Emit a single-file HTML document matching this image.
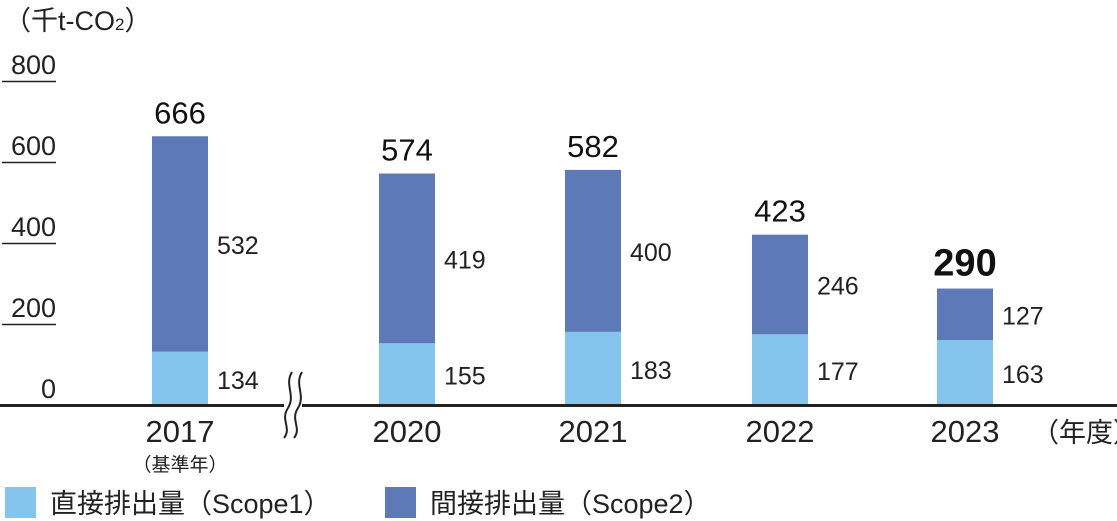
<!DOCTYPE html>
<html><head><meta charset="utf-8">
<style>
html,body{margin:0;padding:0;background:#fff;}
svg{display:block;font-family:"Liberation Sans","Noto Sans CJK JP",sans-serif;}
</style></head>
<body>
<svg width="1117" height="521" viewBox="0 0 1117 521" id="chart">
<text x="4" y="30" font-size="27" fill="#222">（千t-CO<tspan font-size="17">2</tspan>）</text>
<g id="yaxis"></g>
<g id="bars"></g>
<line x1="0" y1="405.5" x2="1117" y2="405.5" stroke="#222" stroke-width="3"/>
<g>
<rect x="284" y="400" width="18" height="12" fill="#fff"/>
<path d="M292 372 C284 385,296 395,288 408 C280 420,292 428,284 438" fill="none" stroke="#222" stroke-width="2"/>
<path d="M302 372 C294 385,306 395,298 408 C290 420,302 428,294 438" fill="none" stroke="#222" stroke-width="2"/>
</g>
<text x="1032" y="442" font-size="27" fill="#222">（年度）</text>
<text x="180" y="471" font-size="19" fill="#222" text-anchor="middle">（基準年）</text>
<g>
<rect x="5" y="487" width="31" height="31" fill="#85c4ec"/>
<text x="50" y="513" font-size="27" fill="#222">直接排出量（Scope1）</text>
<rect x="385" y="487" width="31" height="31" fill="#5e79b8"/>
<text x="430" y="513" font-size="27" fill="#222">間接排出量（Scope2）</text>
</g>
</svg>
<script>
const categories=["2017","2020","2021","2022","2023"];
const scope1=[134,155,183,177,163];
const scope2=[532,419,400,246,127];
const totals=[666,574,582,423,290];
const yTicks=[0,200,400,600,800];
const NS="http://www.w3.org/2000/svg";
const base=406, pxPer=81/200;
function y(v){return base-v*pxPer;}
const centers=[180,407,593,780,965];
function xc(i){return centers[i];}
function mk(tag,attrs,parent,text){const e=document.createElementNS(NS,tag);for(const k in attrs)e.setAttribute(k,attrs[k]);if(text!==undefined)e.textContent=text;parent.appendChild(e);return e;}
const ya=document.getElementById('yaxis');
yTicks.forEach(t=>{
  const tx=mk('text',{x:56,y:(t===0?y(t)-8:y(t)-8),'font-size':27,fill:'#222','text-anchor':'end'},ya,String(t));
  
  
  if(t>0){
    const l=mk('line',{x1:2,x2:56,y1:y(t)-0.5,y2:y(t)-0.5,stroke:'#222','stroke-width':1.5},ya);
    
    
  }
});
const bg=document.getElementById('bars');
const w=56;
categories.forEach((c,i)=>{
  const x=xc(i)-w/2;
  const r1=mk('rect',{x:x,y:y(scope1[i]),width:w,height:base-y(scope1[i]),fill:'#85c4ec'},bg);
  
  
  const r2=mk('rect',{x:x,y:y(scope1[i]+scope2[i]),width:w,height:scope2[i]*pxPer,fill:'#5e79b8'},bg);
  
  
  const l1=mk('text',{x:x+w+9,y:Math.min(y(scope1[i]/2)+10,base-16),'font-size':25,fill:'#222'},bg,String(scope1[i]));
  
  
  const l2=mk('text',{x:x+w+9,y:y(scope1[i]+scope2[i]/2)+10,'font-size':25,fill:'#222'},bg,String(scope2[i]));
  
  
  const last=i===categories.length-1;
  const tt=mk('text',{x:xc(i),y:y(scope1[i]+scope2[i])-13,'font-size':last?38:31,'font-weight':last?'bold':'normal',fill:'#111','text-anchor':'middle'},bg,String(totals[i]));
  
  
  const xl=mk('text',{x:xc(i),y:442,'font-size':31,fill:'#222','text-anchor':'middle'},bg,c);
  
  
});
</script>
</body></html>
